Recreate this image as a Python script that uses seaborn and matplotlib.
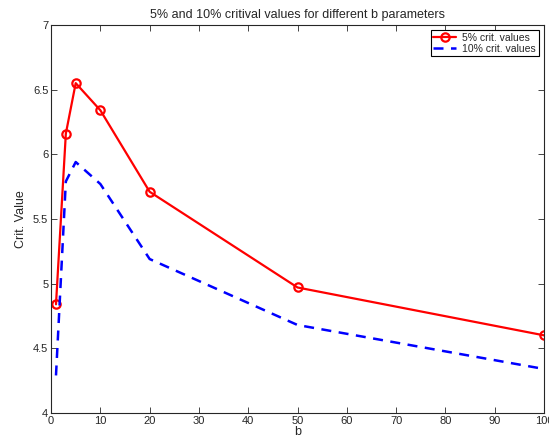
import numpy as np
import pandas as pd
import matplotlib
matplotlib.use("Agg")
import matplotlib.pyplot as plt
import seaborn as sns

# values
b_values = [1, 3, 5, 10, 20, 50, 100]
crit_5 = [4.84, 6.16, 6.55, 6.34, 5.71, 4.97, 4.60]
crit_10 = [4.29, 5.79, 5.94, 5.77, 5.19, 4.68, 4.34]

sns.set_style("ticks")
plt.rcParams['font.family'] = ['Liberation Sans', 'DejaVu Sans']
plt.rcParams['xtick.direction'] = 'in'
plt.rcParams['ytick.direction'] = 'in'

df5 = pd.DataFrame({'b': b_values, 'crit': crit_5})
df10 = pd.DataFrame({'b': b_values, 'crit': crit_10})

fig = plt.figure(figsize=(5.49, 4.45), dpi=100)
ax = fig.add_axes([0.093, 0.072, 0.898, 0.872])

sns.lineplot(data=df5, x='b', y='crit', ax=ax, color='#ff0000', lw=1.6,
             marker='o', markersize=6, markerfacecolor='none',
             markeredgecolor='#ff0000', markeredgewidth=1.6,
             label='5% crit. values')
sns.lineplot(data=df10, x='b', y='crit', ax=ax, color='#0000ff', lw=1.8,
             label='10% crit. values')
ax.lines[1].set_dashes([4, 3])

ax.set_xlim(0, 100)
ax.set_ylim(4, 7)
ax.set_xticks(np.arange(0, 101, 10))
ax.set_yticks(np.arange(4, 7.01, 0.5))
ax.set_yticklabels(['4', '4.5', '5', '5.5', '6', '6.5', '7'])
ax.tick_params(labelsize=8, length=4, width=0.6, top=True, right=True, pad=2)
for s in ax.spines.values():
    s.set_visible(True)
    s.set_linewidth(0.8)

ax.set_xlabel('b', fontsize=9, labelpad=0)
ax.set_ylabel('Crit. Value', fontsize=9, labelpad=4)
ax.set_title('5% and 10% critival values for different b parameters', fontsize=9, pad=5)

leg = ax.legend(loc='upper right', fontsize=7.5, frameon=True, fancybox=False,
                edgecolor='black', framealpha=1, handlelength=2.2,
                borderpad=0.25, labelspacing=0.1, handletextpad=0.6,
                borderaxespad=0.5)
leg.get_frame().set_linewidth(0.8)

fig.savefig('out.png', dpi=100)
